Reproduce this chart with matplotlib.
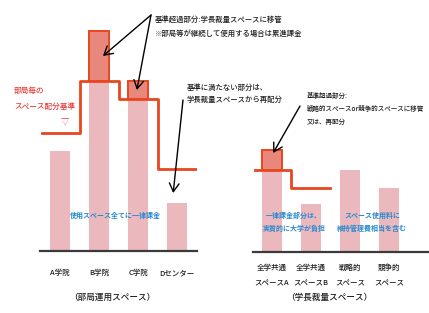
import matplotlib
matplotlib.use('Agg')
import matplotlib.pyplot as plt
import numpy as np

plt.rcParams['font.family'] = ['Noto Sans CJK JP', 'DejaVu Sans']

# 部局運用スペース
dept_names = ['A学院', 'B学院', 'C学院', 'Dセンター']
dept_standard = [59, 85, 76, 41]
dept_usage = [50, 110, 85, 24]

# 学長裁量スペース
pres_names = ['全学共通\nスペースA', '全学共通\nスペースB', '戦略的\nスペース', '競争的\nスペース']
pres_standard = [41, 32]
pres_usage = [51, 24, 41, 32]

PINK = '#ebb9bd'
SALMON = '#e8877c'
RED = '#e8461e'
BLUE = '#2a8ad0'
INK = '#1e1e1e'

W, H = 429, 313
fig = plt.figure(figsize=(W / 100, H / 100), dpi=100)


def fx(px):
    return px / W


def fy(py):
    return 1 - py / H


def panel(rect, names, standard, usage, xlim, step_end, pad):
    ax = fig.add_axes(rect)
    x = np.arange(len(names))
    usage = np.array(usage, float)
    std = np.full(len(names), np.nan)
    std[:len(standard)] = standard
    has = ~np.isnan(std)
    base = np.where(has, np.fmin(usage, std), usage)
    ax.bar(x, base, width=0.53, color=PINK, zorder=1)
    over = has & (usage > np.nan_to_num(std, nan=1e9))
    ax.bar(x[over], (usage - std)[over], bottom=std[over], width=0.53,
           color=SALMON, edgecolor=RED, lw=1.4, zorder=3)
    n = len(standard)
    sx = np.concatenate([[xlim[0] + 0.04], x[:n], [step_end]])
    sy = np.concatenate([[standard[0]], standard, [standard[-1]]])
    ax.step(sx, sy, where='mid', color=RED, lw=2, zorder=2)
    ax.axhline(0, color='#3a3a3a', lw=1.6, zorder=4, clip_on=False)
    ax.set_xlim(*xlim)
    ax.set_ylim(0, 115.5)
    ax.set_xticks(x, names, fontsize=5.4, linespacing=2.3, color=INK, fontweight='medium')
    ax.tick_params(length=0, pad=pad)
    ax.set_yticks([])
    for s in ax.spines.values():
        s.set_visible(False)
    ax.patch.set_alpha(0)
    return ax


ax1 = panel([fx(40), fy(251), 157 / W, 231 / H], dept_names, dept_standard,
            dept_usage, (-0.513, 3.51), 3.51, 13)
ax2 = panel([fx(253), fy(252), 176 / W, 231 / H], pres_names, pres_standard,
            pres_usage, (-0.487, 4.03), 1.49, 8.5)

# panel captions
fig.text(fx(112), fy(297), '（部局運用スペース）', fontsize=6.2, ha='center', va='center',
         color=INK, fontweight='medium')
fig.text(fx(329), fy(297), '（学長裁量スペース）', fontsize=6.2, ha='center', va='center',
         color=INK, fontweight='medium')

# red legend for the standard line
fig.text(fx(14), fy(99), '部局毎の\nスペース配分基準', fontsize=5.5, color='#e63a36',
         ha='left', va='center', linespacing=2.4, fontweight='medium')
fig.text(fx(65), fy(123), '▽', fontsize=6, color='#e63a36', ha='center', va='center')

# blue notes
fig.text(fx(115), fy(215), '使用スペース全てに一律課金', fontsize=5, color=BLUE,
         ha='center', va='center', fontweight='bold')
fig.text(fx(294), fy(222), '一律課金部分は、\n実質的に大学が負担', fontsize=5, color=BLUE,
         ha='center', va='center', fontweight='bold', linespacing=1.8)
fig.text(fx(372), fy(222), 'スペース使用料に\n維持管理費相当を含む', fontsize=5, color=BLUE,
         ha='center', va='center', fontweight='bold', linespacing=1.8)

# annotations
arrow = dict(arrowstyle='->,head_length=0.6,head_width=0.35', color='black', lw=1.0,
             shrinkA=0, shrinkB=0)
fig.text(fx(155), fy(27), '基準超過部分:学長裁量スペースに移管\n※部局等が継続して使用する場合は累進課金',
         fontsize=5.3, ha='left', va='center', linespacing=2.0, color=INK, fontweight='medium')
b_mid = (dept_standard[1] + dept_usage[1]) / 2
c_mid = (dept_standard[2] + dept_usage[2]) / 2
ax1.annotate('', xy=(1.1, b_mid), xycoords='data', xytext=(fx(151), fy(15)),
             textcoords='figure fraction', arrowprops=arrow, annotation_clip=False)
ax1.annotate('', xy=(1.97, c_mid), xycoords='data', xytext=(fx(151), fy(15)),
             textcoords='figure fraction', arrowprops=arrow, annotation_clip=False)

fig.text(fx(187), fy(94), '基準に満たない部分は、\n学長裁量スペースから再配分',
         fontsize=5.3, ha='left', va='center', linespacing=1.6, color=INK, fontweight='medium')
ax1.annotate('', xy=(2.9, dept_usage[3] + 5), xycoords='data', xytext=(fx(183), fy(100)),
             textcoords='figure fraction', arrowprops=arrow, annotation_clip=False)

fig.text(fx(307), fy(109), '基準超過部分:\n戦略的スペースor競争的スペースに移管\n又は、再配分',
         fontsize=4.7, ha='left', va='center', linespacing=1.85, color=INK, fontweight='medium')
ax2.annotate('', xy=(0.03, pres_usage[0] - 1.5), xycoords='data', xytext=(fx(300), fy(106)),
             textcoords='figure fraction', arrowprops=arrow, annotation_clip=False)

fig.savefig('out.png', dpi=100)
